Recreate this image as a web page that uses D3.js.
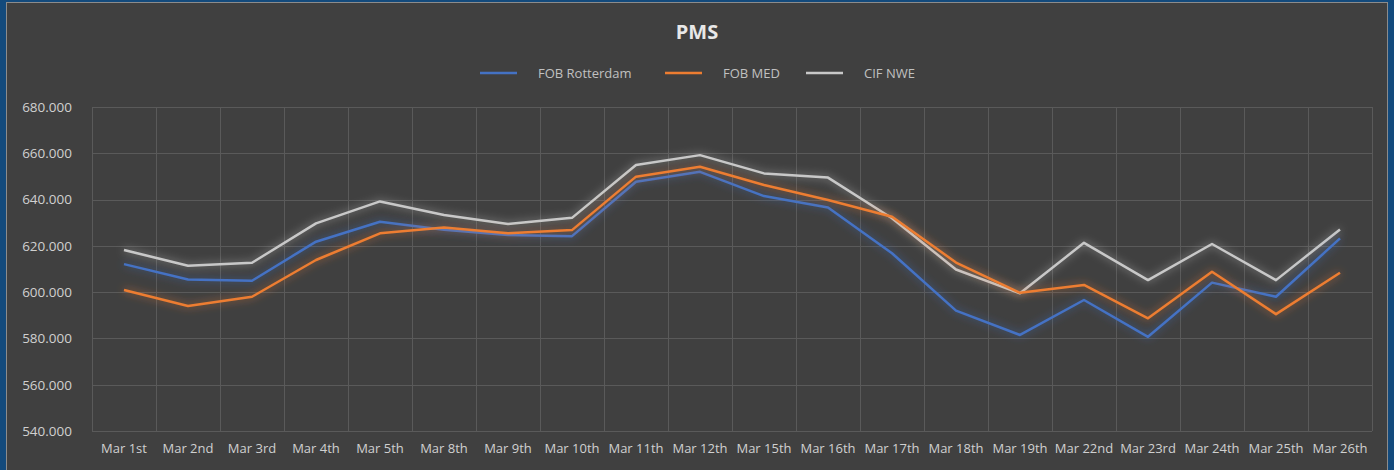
<!DOCTYPE html>
<html><head><meta charset="utf-8">
<script src="https://cdn.jsdelivr.net/npm/d3@7"></script>
<style>
html,body{margin:0;padding:0;background:#134a7c;overflow:hidden;}
text{font-family:"Open Sans","Noto Sans",sans-serif;}
</style></head>
<body><svg id="c" width="1394" height="470"></svg>
<script>
const categories = ["Mar 1st","Mar 2nd","Mar 3rd","Mar 4th","Mar 5th","Mar 8th","Mar 9th","Mar 10th","Mar 11th","Mar 12th","Mar 15th","Mar 16th","Mar 17th","Mar 18th","Mar 19th","Mar 22nd","Mar 23rd","Mar 24th","Mar 25th","Mar 26th"];
const fobRotterdam = [612.1,605.5,604.9,621.8,630.4,627.0,624.7,624.2,647.7,652.0,641.5,636.6,616.8,592.0,581.5,596.6,580.7,604.1,598.0,623.2];
const fobMed      = [600.9,594.0,598.0,613.9,625.4,627.9,625.4,626.8,649.9,654.2,646.3,639.8,632.6,612.8,599.7,603.1,588.7,608.8,590.5,608.4];
const cifNwe      = [618.2,611.4,612.7,629.7,639.2,633.3,629.4,632.1,654.9,659.2,651.3,649.5,631.9,609.8,599.5,621.3,605.2,620.8,605.2,627.1];
const seriesNames = ["FOB Rotterdam","FOB MED","CIF NWE"];
const seriesColors = ["#4472c4","#ed7d31","#c8c8c8"];
const yTicks = [540,560,580,600,620,640,660,680];
const title = "PMS";

const svg = d3.select("#c");
svg.append("rect").attr("x",6.5).attr("y",2.5).attr("width",1381).attr("height",470).attr("fill","#404040").attr("stroke","#8c8c8c");

const defs = svg.append("defs");
seriesColors.forEach((c,i)=>{
  const f = defs.append("filter").attr("id","glow"+i).attr("x","-10%").attr("y","-50%").attr("width","120%").attr("height","200%");
  f.append("feGaussianBlur").attr("in","SourceGraphic").attr("stdDeviation",4).attr("result","b");
  f.append("feComponentTransfer").attr("in","b").attr("result","bo").append("feFuncA").attr("type","linear").attr("slope",0.7);
  const m = f.append("feMerge");
  m.append("feMergeNode").attr("in","bo");
  m.append("feMergeNode").attr("in","SourceGraphic");
});

const x = d3.scaleBand().domain(categories).range([92,1372]).padding(0);
const y = d3.scaleLinear().domain([540,680]).range([431,107]);

// gridlines
const g = svg.append("g");
g.selectAll("line.h").data(yTicks).join("line")
  .attr("x1",92).attr("x2",1372).attr("y1",d=>Math.round(y(d))+0.5).attr("y2",d=>Math.round(y(d))+0.5)
  .attr("stroke","#5a5a5a").attr("stroke-width",1);
const vb = categories.map(c=>x(c)).concat([x(categories[categories.length-1])+x.bandwidth()]);
g.selectAll("line.v").data(vb).join("line")
  .attr("x1",d=>Math.round(d)+0.5).attr("x2",d=>Math.round(d)+0.5).attr("y1",y(680)).attr("y2",y(540))
  .attr("stroke","#5a5a5a").attr("stroke-width",1);

// y axis labels
const yAxis = d3.axisLeft(y).tickValues(yTicks).tickFormat(d3.format(".3f")).tickSize(0).tickPadding(0);
const ya = svg.append("g").attr("transform","translate(72,0)").call(yAxis);
ya.select(".domain").remove();
ya.selectAll("text").attr("fill","#d0d0d0").attr("font-size","13.5px");

// x axis labels
const xAxis = d3.axisBottom(x).tickSize(0).tickPadding(0);
const xa = svg.append("g").attr("transform","translate(0,444)").call(xAxis);
xa.select(".domain").remove();
xa.selectAll("text").attr("fill","#d0d0d0").attr("font-size","13px").attr("dy","0.71em");

// lines
const line = d3.line().x((d,i)=>x(categories[i])+x.bandwidth()/2).y(d=>y(d));
const allSeries = [fobRotterdam,fobMed,cifNwe];
const order = [2,0,1];
order.forEach(i=>{
  svg.append("path").datum(allSeries[i]).attr("d",line).attr("fill","none")
    .attr("stroke",seriesColors[i]).attr("stroke-width",2.5).attr("stroke-linejoin","round")
    .attr("filter","url(#glow"+i+")");
});

// title
svg.append("text").attr("x",697).attr("y",39).attr("text-anchor","middle").attr("fill","#e8e8e8")
  .attr("font-size","20px").attr("font-weight","bold").text(title);

// legend
const legX = [480,665,806];
seriesNames.forEach((n,i)=>{
  svg.append("line").attr("x1",legX[i]).attr("x2",legX[i]+37).attr("y1",73).attr("y2",73)
    .attr("stroke",seriesColors[i]).attr("stroke-width",2.5);
  svg.append("text").attr("x",legX[i]+58).attr("y",77.5).attr("fill","#c0c0c0").attr("font-size","13px").text(n);
});
</script></body></html>
